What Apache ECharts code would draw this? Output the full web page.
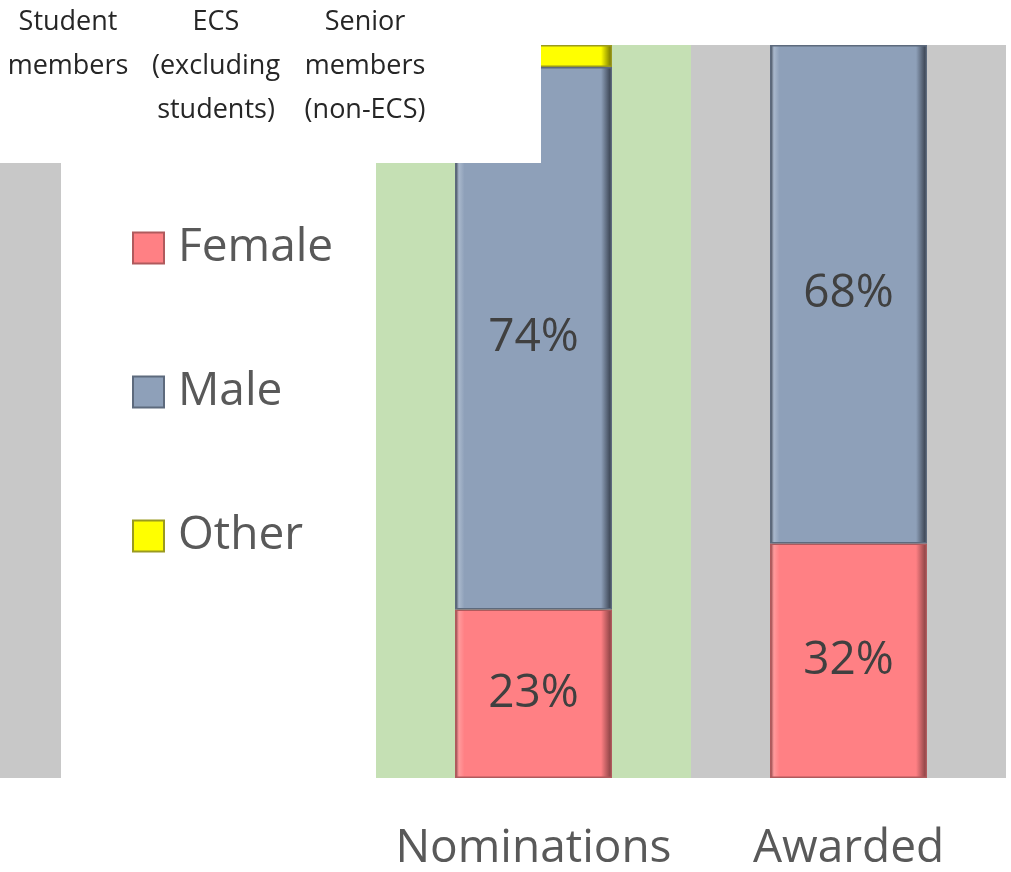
<!DOCTYPE html>
<html>
<head>
<meta charset="utf-8">
<script src="https://cdn.jsdelivr.net/npm/echarts@6/dist/echarts.min.js"></script>
<style>
  html, body { margin: 0; padding: 0; background: #fff; }
  #chart { width: 1011px; height: 872px; }
</style>
</head>
<body>
<div id="chart"></div>
<script>
// first band is the empty gap next to the cropped-off part of the chart
const categories = ['', 'Nominations', 'Awarded'];
const female = [null, 23, 32];
const male = [null, 74, 68];
const other = [null, 3, null];
// background column for each band (null = no column)
const bandBg = [null, 100, 100];
const bandColors = ['#ffffff', '#c5e0b4', '#c8c8c8'];
const headerLabels = ['Student\nmembers', 'ECS\n(excluding\nstudents)', 'Senior\nmembers\n(non-ECS)'];

const font = '"Open Sans", "Noto Sans", sans-serif';

function bevel(light, base, dark) {
  return new echarts.graphic.LinearGradient(0, 0, 1, 0, [
    { offset: 0, color: dark },
    { offset: 0.025, color: light },
    { offset: 0.06, color: base },
    { offset: 0.93, color: base },
    { offset: 1, color: dark }
  ]);
}

const chart = echarts.init(document.getElementById('chart'));

chart.setOption({
  animation: false,
  grid: { left: 61, right: 5, top: 45, bottom: 94 },
  legend: {
    data: ['Female', 'Male', 'Other'],
    orient: 'vertical',
    left: 132,
    top: 225,
    padding: 0,
    itemWidth: 31,
    itemHeight: 31,
    itemGap: 98,
    icon: 'rect',
    selectedMode: false,
    textStyle: {
      fontFamily: font,
      fontSize: 46,
      color: '#595959',
      padding: [0, 0, 0, 9]
    }
  },
  xAxis: [
    {
      type: 'category',
      data: categories,
      axisLine: { show: false },
      axisTick: { show: false },
      axisLabel: {
        interval: 0,
        fontFamily: font,
        fontSize: 46,
        color: '#595959',
        margin: 48,
        lineHeight: 46
      }
    },
    {
      type: 'category',
      data: categories,
      show: false
    }
  ],
  yAxis: {
    type: 'value',
    min: 0,
    max: 100,
    show: false
  },
  series: [
    {
      name: 'bg',
      type: 'bar',
      xAxisIndex: 0,
      barWidth: '100%',
      silent: true,
      z: 1,
      data: bandBg.map((v, i) => ({ value: v, itemStyle: { color: bandColors[i] } }))
    },
    {
      name: 'Female',
      type: 'bar',
      stack: 'all',
      xAxisIndex: 1,
      barWidth: 157,
      z: 3,
      data: female,
      itemStyle: {
        color: bevel('#ff9a9c', '#ff8084', '#7d3b3d'),
        borderColor: '#b05a5d',
        borderWidth: 1.5
      },
      label: {
        show: true,
        position: 'inside',
        formatter: p => p.value + '%',
        fontFamily: font,
        fontSize: 46,
        color: '#404040'
      }
    },
    {
      name: 'Male',
      type: 'bar',
      stack: 'all',
      xAxisIndex: 1,
      barWidth: 157,
      z: 3,
      data: male,
      itemStyle: {
        color: bevel('#a9b8cc', '#8ea0b9', '#2f3744'),
        borderColor: '#5d6a7d',
        borderWidth: 1.5
      },
      label: {
        show: true,
        position: 'inside',
        formatter: p => p.value + '%',
        fontFamily: font,
        fontSize: 46,
        color: '#404040'
      }
    },
    {
      name: 'Other',
      type: 'bar',
      stack: 'all',
      xAxisIndex: 1,
      barWidth: 157,
      z: 3,
      data: other,
      itemStyle: {
        color: bevel('#ffff66', '#ffff00', '#6b6b00'),
        borderColor: '#9a9a20',
        borderWidth: 1.5
      }
    }
  ],
  graphic: [
    // edge of the previous (cropped) category column
    {
      type: 'rect',
      left: 0,
      top: 163,
      z: 0,
      shape: { width: 61, height: 615 },
      style: { fill: '#c8c8c8' }
    },
    {
      type: 'rect',
      left: 0,
      top: 0,
      z: 100,
      shape: { width: 541, height: 163 },
      style: { fill: '#ffffff' }
    },
    ...headerLabels.map((t, i) => ({
      type: 'text',
      z: 101,
      x: [68, 216, 365][i],
      y: 0,
      style: {
        text: t,
        fontFamily: font,
        fontSize: 27,
        lineHeight: 44,
        fill: '#262626',
        align: 'center',
        verticalAlign: 'top'
      }
    }))
  ]
});
</script>
</body>
</html>
